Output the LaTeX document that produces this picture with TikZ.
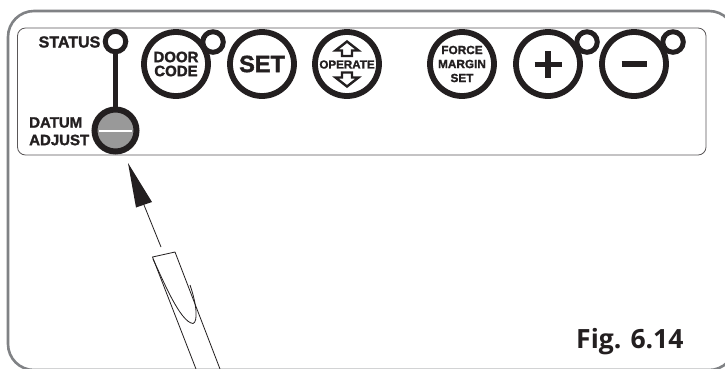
\documentclass[tikz,border=0pt]{standalone}
\usepackage{fontspec}
\setmainfont{Liberation Sans}[BoldFeatures={FakeBold=1.6}]
\newfontfamily\figfont{Open Sans}
\definecolor{ink}{HTML}{231F20}
\definecolor{frameg}{HTML}{808285}
\tikzset{
  x=1pt,y=-1pt,
  btn/.style={circle,draw=ink,line width=5.8pt,fill=white,minimum size=64pt,inner sep=0pt,align=center,text=ink,font=\bfseries\fontsize{15}{14.5}\selectfont},
  led/.style={circle,draw=ink,line width=5pt,fill=white,minimum size=20.5pt,inner sep=0pt},
  lbl/.style={inner sep=0pt,text=ink,align=left,font=\bfseries\fontsize{15}{17}\selectfont},
}
\begin{document}
\begin{tikzpicture}
\useasboundingbox (0,0) rectangle (725,368);
\clip (0,0) rectangle (725,368);
\fill[white] (0,0) rectangle (725,368);
% outer frame and panel
\draw[frameg,line width=2.6pt,rounded corners=26pt] (8,11) rectangle (735,370);
\draw[draw=ink!75!white,line width=0.8pt,rounded corners=8pt] (17.5,28) rectangle (706,155);
% leds behind buttons
\node[led] (doorled) at (213,42) {};
\node[led] (plusled) at (587,42) {};
\node[led] (minusled) at (673,42) {};
% buttons
\node[btn] (door) at (176,64) {DOOR\\[-0.5pt]CODE};
\node[btn,font=\bfseries\fontsize{23.5}{24}\selectfont] (set) at (262,64) {SET};
\node[btn] (operate) at (347,64) {};
\node[btn,font=\bfseries\fontsize{11.8}{14}\selectfont] (force) at (462,64) {FORCE\\MARGIN\\SET};
\node[btn] (plus) at (548,64) {};
\node[btn] (minus) at (634,64) {};
% plus / minus
\draw[ink,line width=5.5pt] (534.5,64.5) -- (561.5,64.5) (548,51) -- (548,78);
\draw[ink,line width=5.5pt] (621.5,64) -- (646.5,64);
% operate arrows
\draw[ink,line width=2.4pt,fill=white,line join=miter] (347,41.5) -- (358.5,50.5) -- (352,50.5) -- (352,56) -- (342,56) -- (342,50.5) -- (335.5,50.5) -- cycle;
\draw[ink,line width=2.4pt,fill=white,line join=miter] (347,86.5) -- (358.5,77.5) -- (352,77.5) -- (352,72.5) -- (342,72.5) -- (342,77.5) -- (335.5,77.5) -- cycle;
\node[inner sep=0pt,text=ink,font=\bfseries\fontsize{11.6}{12}\selectfont] (oplbl) at (347,64.5) {OPERATE};
% status and datum
\node[led] (status) at (115.5,41.5) {};
\node[circle,draw=ink,line width=6pt,fill=gray!80,minimum size=42pt,inner sep=0pt] (datum) at (115.5,130.5) {};
\draw[ink,line width=5.5pt] (status) -- (datum);
\draw[white,line width=2pt] (99,130.5) -- (132,130.5);
\node[lbl,anchor=east,font=\bfseries\fontsize{16}{17}\selectfont] (statuslbl) at (100.5,42) {STATUS};
\node[lbl,anchor=west] (datumlbl) at (29,122.5) {DATUM};
\node[lbl,anchor=west] (adjustlbl) at (29,140) {ADJUST};
% arrow
\coordinate (tip) at (128,163);
\coordinate (shaft) at (144,205);
\coordinate (tail) at (161,247);
\draw[ink,line width=0.8pt] (shaft) -- (tail);
\fill[ink] (tip) -- (152,202) -- (136,207.5) -- cycle;
% screwdriver
\draw[ink,line width=0.8pt,line join=round] (196,369) -- (152.5,257) -- (175,252) -- (220,369);
\draw[ink,line width=0.8pt] (153,259) .. controls (163,280) and (180,322) .. (193,323.5) .. controls (198,322) and (197,305) .. (190,285);
% figure label
\node[anchor=west,inner sep=0pt,text=ink,font=\figfont\bfseries\fontsize{26.5}{27}\selectfont] (figlbl) at (576,342) {Fig. 6.14};
\end{tikzpicture}
\end{document}
